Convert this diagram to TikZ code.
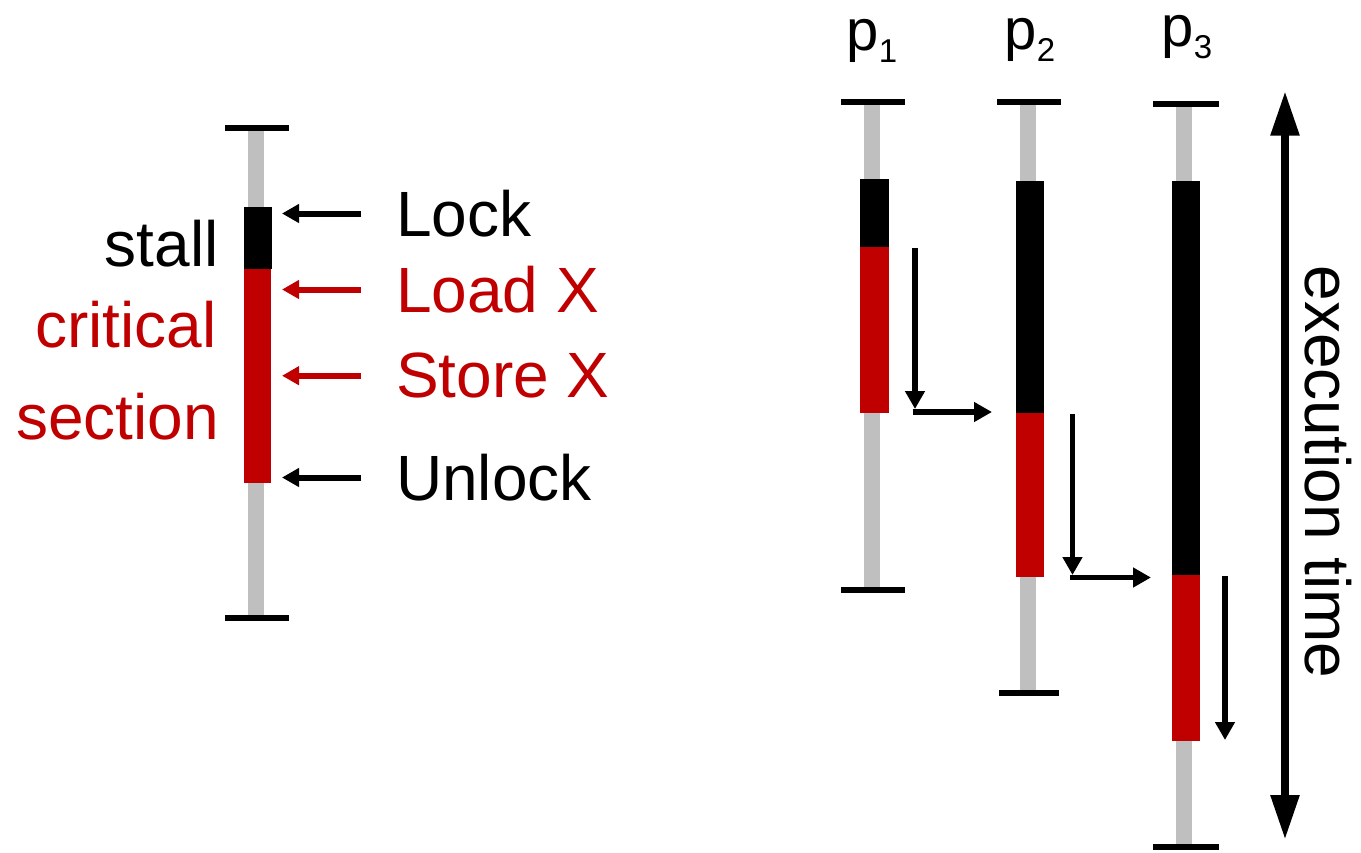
\documentclass[tikz,border=0pt]{standalone}
\usepackage{fontspec}
\setmainfont{Liberation Sans}
\usetikzlibrary{arrows.meta}
\definecolor{critred}{RGB}{192,0,0}
\definecolor{idlegray}{RGB}{191,191,191}
\tikzstyle{lbl} = [inner sep=0pt, font=\fontsize{64}{70}\selectfont]
\tikzstyle{plbl} = [inner sep=0pt, font=\fontsize{58}{62}\selectfont]
\tikzstyle{thread} = [line width=16pt, draw=idlegray]
\tikzstyle{endbar} = [line width=6pt]
\tikzstyle{ptr} = [line width=6pt, -{Triangle[length=17pt,width=18pt]}]
\tikzstyle{flow} = [line width=5.5pt, -{Triangle[length=18pt,width=19pt]}]
\tikzstyle{timearrow} = [line width=8.5pt, {Triangle[length=45pt,width=27pt]}-{Triangle[length=45pt,width=27pt]}]
\newcommand{\procsub}[1]{\raisebox{-12pt}{\fontsize{33}{33}\selectfont #1}}

\begin{document}
\begin{tikzpicture}[x=1pt,y=-1pt]
		\useasboundingbox (0,0) rectangle (1361,852);
		% one thread with its critical section
		\draw[thread] (256,128)--(256,617);
		\fill (243.7,206.7) rectangle (272.3,268.7);
		\fill[critred] (243.7,268.7) rectangle (270.5,482.7);
		\draw[endbar] (225,128)--(289,128);
		\draw[endbar] (225,617.7)--(289,617.7);
		
		\node[lbl,anchor=base east](stall) at (219,266){stall};
		\node[lbl,anchor=base east,text=critred](crit) at (217,347.7){critical};
		\node[lbl,anchor=base east,text=critred](sect) at (219,439.3){section};
		
		\node[lbl,anchor=west](lock) at (396,213.5){Lock};
		\node[lbl,anchor=west,text=critred](load) at (396,289.5){Load X};
		\node[lbl,anchor=west,text=critred](store) at (396,375.7){Store X};
		\node[lbl,anchor=west](unlock) at (396,477.5){Unlock};
		
		\coordinate (lockin) at (282,213.5);
		\coordinate (loadin) at (282,289.5);
		\coordinate (storein) at (282,375.7);
		\coordinate (unlockin) at (282,477.5);
		\draw[ptr] (lock.west) ++(-35,0)--(lockin);
		\draw[ptr,color=critred] (load.west) ++(-35,0)--(loadin);
		\draw[ptr,color=critred] (store.west) ++(-35,0)--(storein);
		\draw[ptr] (unlock.west) ++(-35,0)--(unlockin);
		
		% three threads waiting for the lock
		\node[plbl,anchor=base](p1) at (872,50.5){p\procsub{1}};
		\node[plbl,anchor=base](p2) at (1030,49.5){p\procsub{2}};
		\node[plbl,anchor=base](p3) at (1187,46.5){p\procsub{3}};
		
		\draw[thread] (872,102)--(872,590);
		\fill (860,179) rectangle (888.5,247);
		\fill[critred] (860,247) rectangle (888.5,413);
		\draw[endbar] (841,102)--(905,102);
		\draw[endbar] (841,590)--(905,590);
		
		\draw[thread] (1028,102)--(1028,693);
		\fill (1015.7,181) rectangle (1044.3,413);
		\fill[critred] (1015.7,413) rectangle (1044.3,577);
		\draw[endbar] (997,102)--(1061,102);
		\draw[endbar] (999,693)--(1059,693);
		
		\draw[thread] (1184,104)--(1184,847);
		\fill (1171.7,181) rectangle (1200.3,575);
		\fill[critred] (1171.7,575) rectangle (1200.3,741);
		\draw[endbar] (1153,103.7)--(1219,103.7);
		\draw[endbar] (1153,847)--(1219,847);
		
		\coordinate (d1s) at (915,248);
		\coordinate (d1e) at (915,409);
		\coordinate (h1s) at (912.5,412);
		\coordinate (h1e) at (992,412);
		\coordinate (d2s) at (1072.5,414);
		\coordinate (d2e) at (1072.5,575);
		\coordinate (h2s) at (1070,577.5);
		\coordinate (h2e) at (1151,577.5);
		\coordinate (d3s) at (1225,576);
		\coordinate (d3e) at (1225,740);
		\draw[flow] (d1s)--(d1e);
		\draw[flow] (h1s)--(h1e);
		\draw[flow] (d2s)--(d2e);
		\draw[flow] (h2s)--(h2e);
		\draw[flow] (d3s)--(d3e);
		
		% time axis
		\coordinate (ttop) at (1285,90.7);
		\coordinate (tbot) at (1285,840);
		\draw[timearrow] (ttop)--(tbot);
		\node[lbl,rotate=-90](exec) at (1328,472){execution time};
\end{tikzpicture}
\end{document}
